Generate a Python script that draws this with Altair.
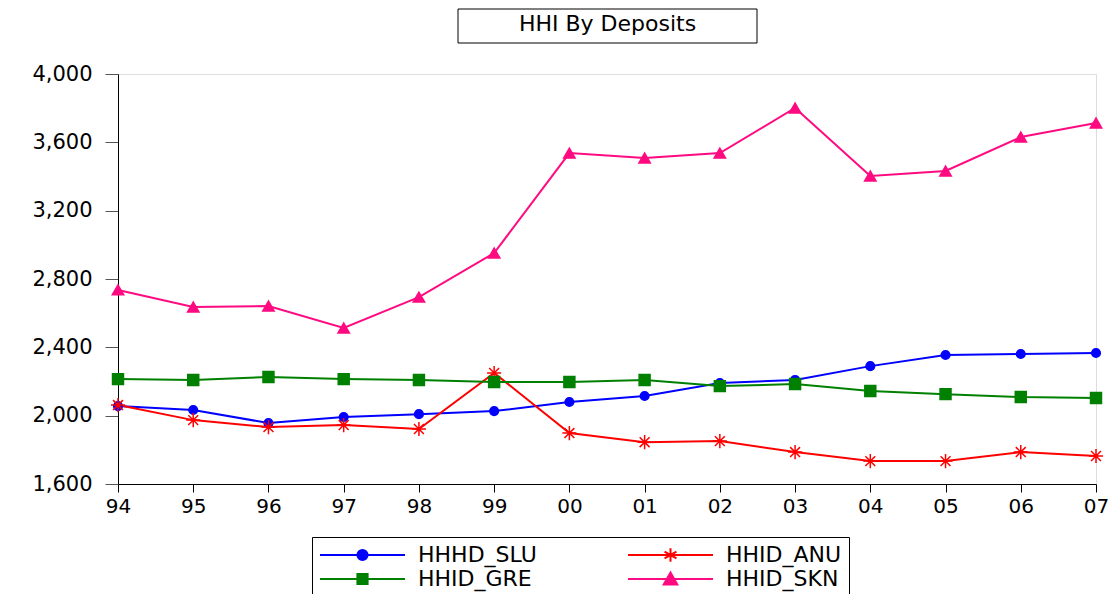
import altair as alt
import pandas as pd

years = ["94", "95", "96", "97", "98", "99", "00", "01", "02", "03", "04", "05", "06", "07"]
series_names = ["HHHD_SLU", "HHID_ANU", "HHID_GRE", "HHID_SKN"]
slu = [2056, 2033, 1957, 1992, 2009, 2027, 2080, 2115, 2191, 2209, 2290, 2355, 2361, 2367]
anu = [2062, 1974, 1933, 1945, 1922, 2250, 1898, 1845, 1851, 1787, 1734, 1734, 1787, 1764]
gre = [2214, 2209, 2226, 2214, 2209, 2197, 2197, 2209, 2173, 2185, 2144, 2126, 2109, 2103]
skn = [2736, 2636, 2642, 2513, 2694, 2952, 3537, 3508, 3537, 3801, 3403, 3432, 3631, 3713]
y_ticks = [1600, 2000, 2400, 2800, 3200, 3600, 4000]
title_text = "HHI By Deposits"

colors = ["#0000FF", "#FF0000", "#008000", "#FF0A80"]
ASTER = "M0,-1L0,1M-1,0L1,0M-0.7,-0.7L0.7,0.7M-0.7,0.7L0.7,-0.7"
shapes = ["circle", ASTER, "square", "triangle-up"]
sizes = [75, 200, 120, 130]

# legend symbol paths (line + marker), unit = 42.5 px
LEG = {
    "HHHD_SLU": "M-1,0L1,0M-0.12,0A0.12,0.12,0,1,0,0.12,0A0.12,0.12,0,1,0,-0.12,0Z",
    "HHID_ANU": "M-1,0L1,0M0,-0.16L0,0.16M-0.14,-0.08L0.14,0.08M-0.14,0.08L0.14,-0.08",
    "HHID_GRE": "M-1,0L1,0M-0.12,-0.12L0.12,-0.12L0.12,0.12L-0.12,0.12Z",
    "HHID_SKN": "M-1,0L1,0M-0.16,0.13L0,-0.15L0.16,0.13Z",
}
shape_expr = " : ".join(
    f"datum.value === '{k}' ? '{v}'" for k, v in LEG.items()
) + " : 'circle'"

rows = []
for name, vals in zip(series_names, [slu, anu, gre, skn]):
    for i, (yr, v) in enumerate(zip(years, vals)):
        rows.append({"year": yr, "idx": i, "series": name, "value": v})
df = pd.DataFrame(rows)

FONT = "DejaVu Sans"

x_enc = alt.X("year:O", scale=alt.Scale(domain=years, type="point", padding=0),
              axis=alt.Axis(title=None, labelAngle=0, labelFontSize=20, labelFont=FONT,
                            labelColor="black", tickSize=8, tickColor="black",
                            domainColor="black", labelPadding=4, grid=False))
y_enc = alt.Y("value:Q", scale=alt.Scale(domain=[1600, 4000], nice=False, zero=False),
              axis=alt.Axis(title=None, values=y_ticks, format=",d", labelFontSize=21,
                            labelFont=FONT, labelColor="black", tickSize=13,
                            tickColor="#555555", domainColor="black", labelPadding=13,
                            grid=False))

color_scale = alt.Scale(domain=series_names, range=colors)

legend = alt.Legend(
    title=None, orient="none", legendX=194, legendY=463, direction="horizontal",
    columns=2, columnPadding=90, rowPadding=2, padding=7,
    strokeColor="black", fillColor="white",
    labelFont=FONT, labelFontSize=22, labelColor="black",
    symbolSize=7225, clipHeight=22, labelOffset=12,
    symbolType={"expr": shape_expr},
    symbolFillColor={"expr": "scale('color', datum.value)"},
    symbolStrokeColor={"expr": "scale('color', datum.value)"},
    symbolStrokeWidth=2, symbolOpacity=1,
)

lines = alt.Chart(df).mark_line(strokeWidth=2).encode(
    x=x_enc, y=y_enc,
    color=alt.Color("series:N", scale=color_scale, legend=legend),
    order=alt.Order("idx:Q"),
)

point_layers = []
for name, col, shp, sz in zip(series_names, colors, shapes, sizes):
    point_layers.append(
        alt.Chart(df).transform_filter(alt.datum.series == name)
        .mark_point(filled=True, opacity=1, strokeWidth=1.5, shape=shp, size=sz,
                    color=col, stroke=col)
        .encode(x=x_enc, y=y_enc)
    )

tdf = pd.DataFrame({"t": [title_text]})
title_box = alt.Chart(tdf).mark_rect(fill="white", stroke="black", strokeWidth=1).encode(
    x=alt.value(340), x2=alt.value(639), y=alt.value(-65), y2=alt.value(-31)
)
title_txt = alt.Chart(tdf).mark_text(font=FONT, fontSize=22, color="black",
                                     baseline="middle", align="center").encode(
    text="t:N", x=alt.value(489.5), y=alt.value(-50)
)

chart = alt.layer(lines, *point_layers, title_box, title_txt).properties(
    width=978, height=410,
    autosize=alt.AutoSizeParams(type="none"),
    padding={"left": 110, "top": 66, "right": 13, "bottom": 110},
).configure_view(stroke="black", strokeWidth=1.5).configure(background="white")

chart.save("out.html", embed_options={"renderer": "svg", "actions": False})
